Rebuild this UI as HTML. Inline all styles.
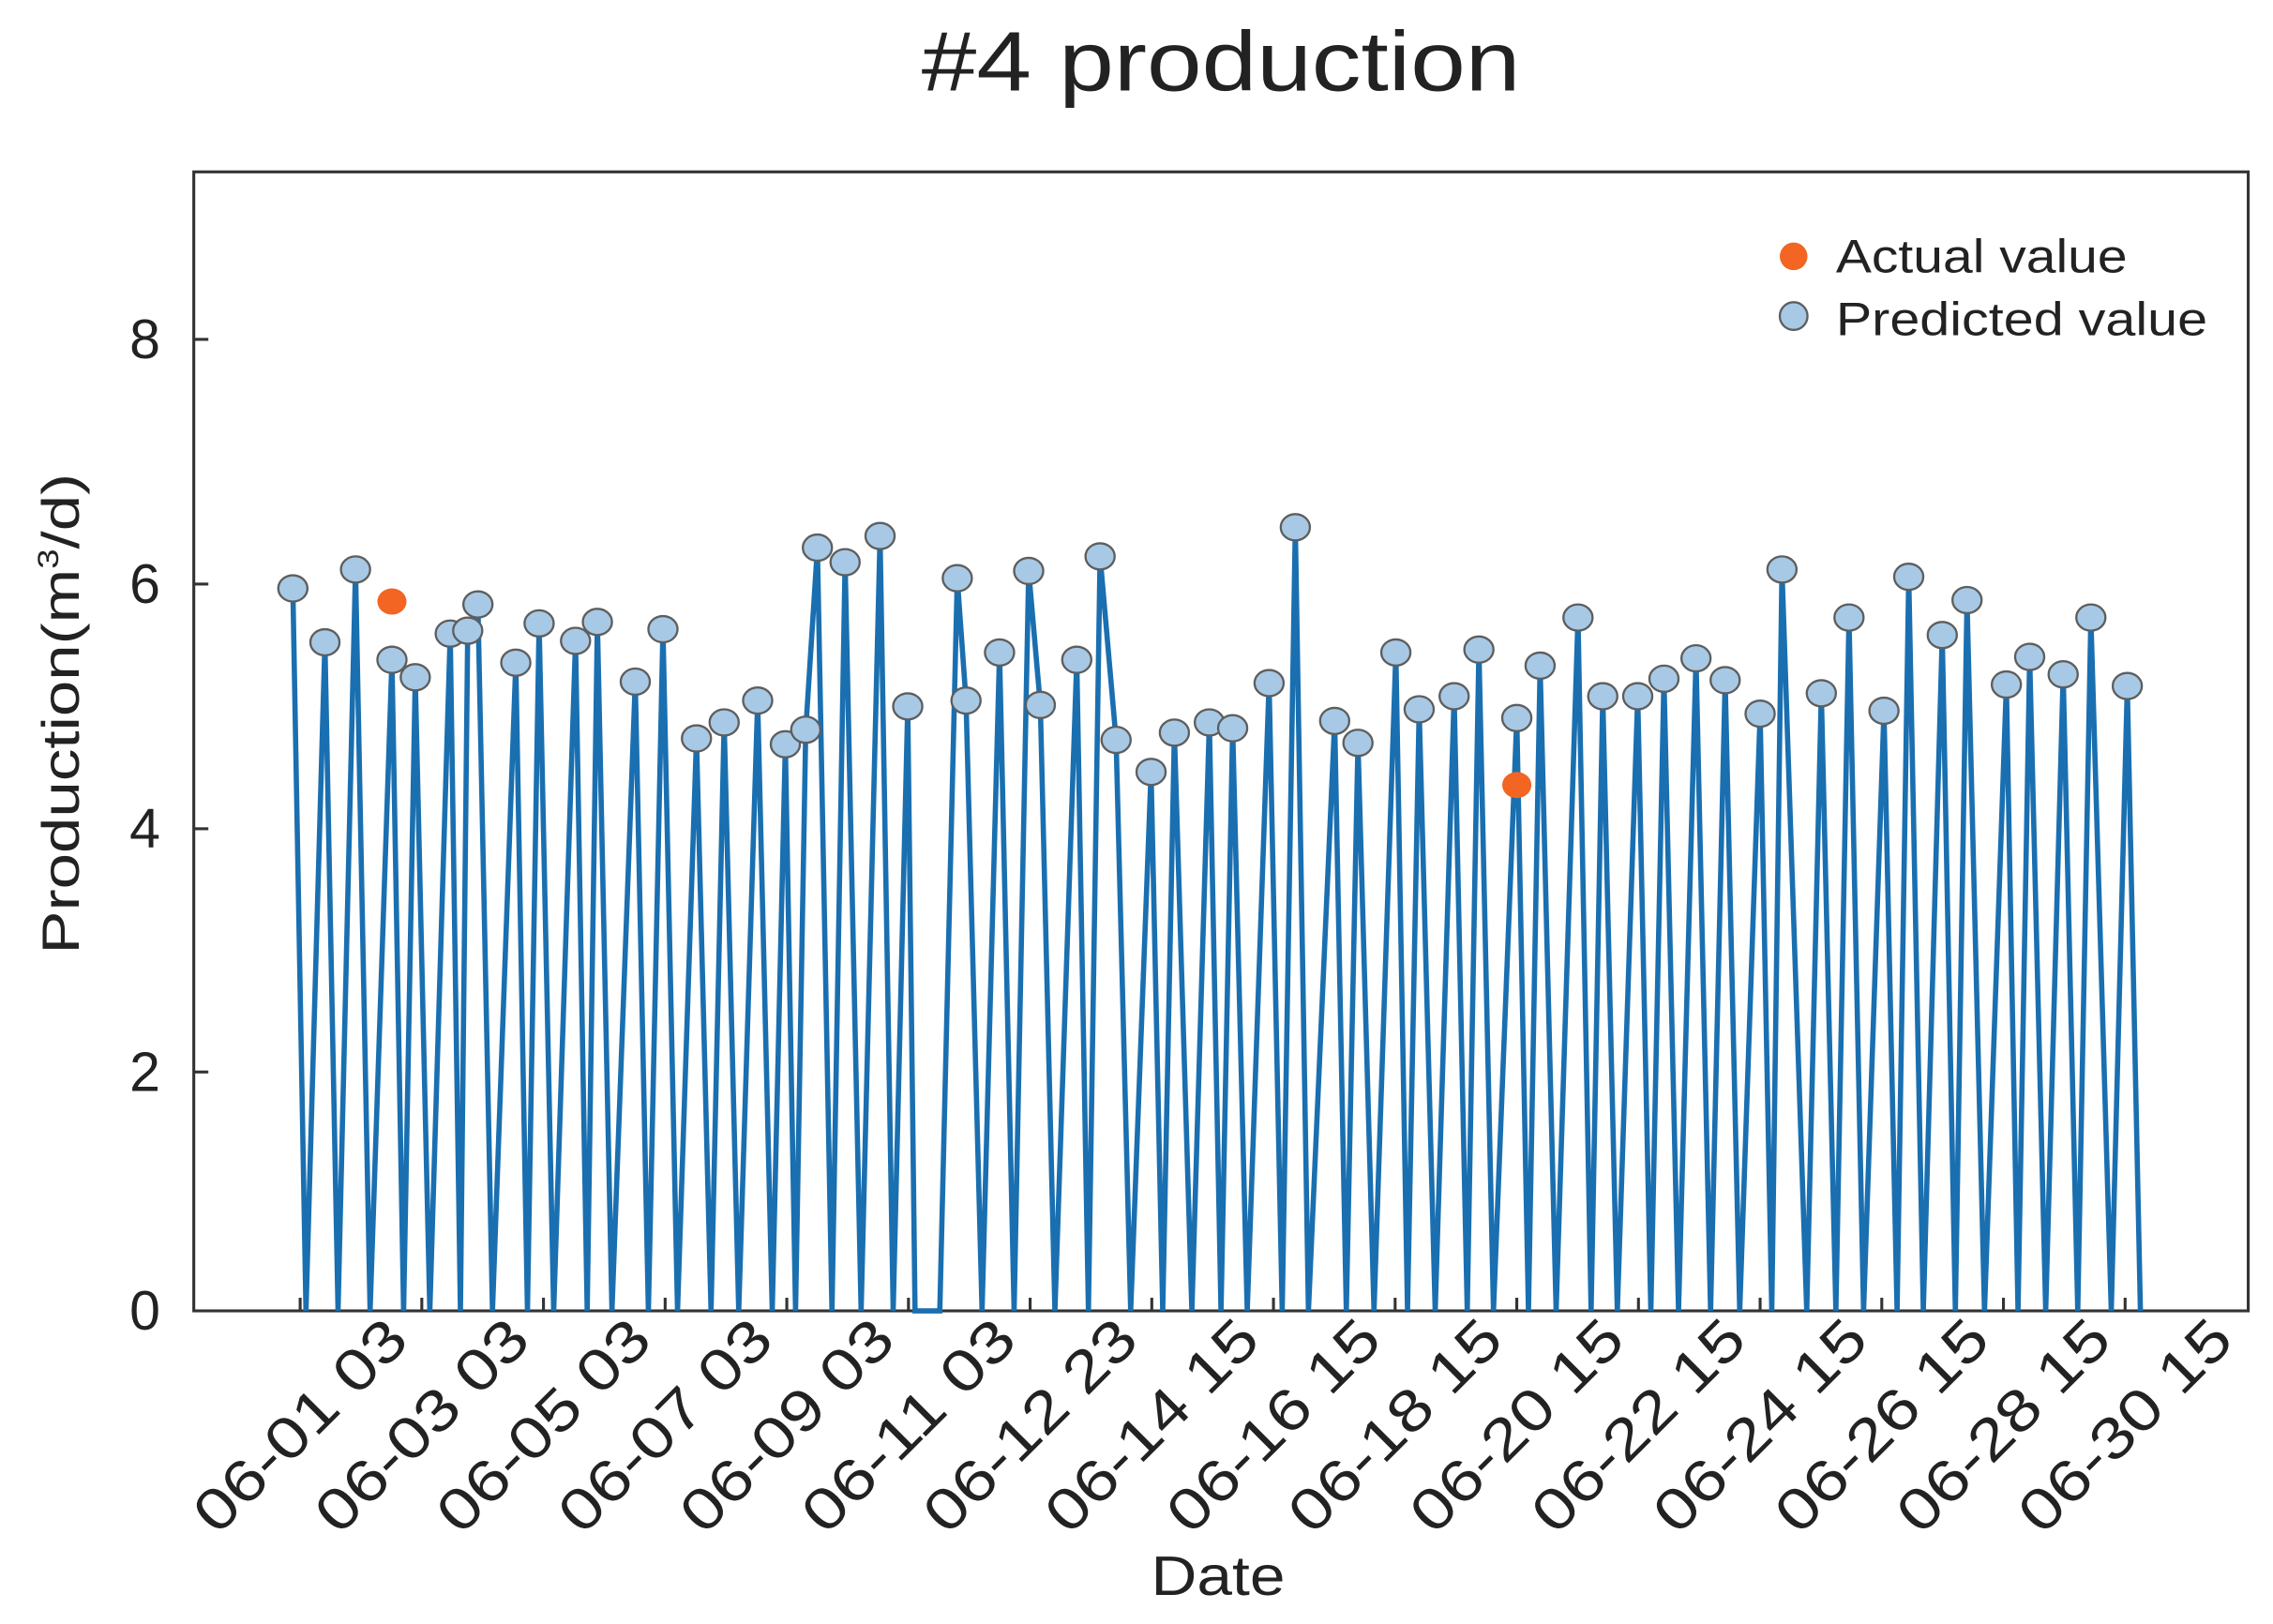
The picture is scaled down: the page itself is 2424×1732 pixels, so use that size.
<!DOCTYPE html>
<html><head><meta charset="utf-8"><style>html,body{margin:0;padding:0;background:#fff}svg{display:block}text{font-family:"Liberation Sans",sans-serif;fill:#222}</style></head>
<body>
<svg width="2424" height="1732" viewBox="0 0 1560 1115" preserveAspectRatio="none" xmlns="http://www.w3.org/2000/svg">
<text x="838" y="62" font-size="58" text-anchor="middle" textLength="411" lengthAdjust="spacingAndGlyphs">#4 production</text>
<rect x="133" y="118" width="1410" height="782" fill="none" stroke="#333" stroke-width="2"/>
<g stroke="#333" stroke-width="2">
<line x1="133" y1="233" x2="143" y2="233"/><line x1="133" y1="401" x2="143" y2="401"/><line x1="133" y1="569" x2="143" y2="569"/><line x1="133" y1="736" x2="143" y2="736"/>
<line x1="206" y1="900" x2="206" y2="891"/><line x1="289.5" y1="900" x2="289.5" y2="891"/><line x1="373" y1="900" x2="373" y2="891"/><line x1="456.5" y1="900" x2="456.5" y2="891"/><line x1="540" y1="900" x2="540" y2="891"/><line x1="623.5" y1="900" x2="623.5" y2="891"/><line x1="707" y1="900" x2="707" y2="891"/><line x1="790.5" y1="900" x2="790.5" y2="891"/><line x1="874" y1="900" x2="874" y2="891"/><line x1="957.5" y1="900" x2="957.5" y2="891"/><line x1="1041" y1="900" x2="1041" y2="891"/><line x1="1124.5" y1="900" x2="1124.5" y2="891"/><line x1="1208" y1="900" x2="1208" y2="891"/><line x1="1291.5" y1="900" x2="1291.5" y2="891"/><line x1="1375" y1="900" x2="1375" y2="891"/><line x1="1458.5" y1="900" x2="1458.5" y2="891"/>
</g>
<g font-size="38" text-anchor="end">
<text x="110" y="246">8</text><text x="110" y="414">6</text><text x="110" y="582">4</text><text x="110" y="749">2</text><text x="110" y="913">0</text>
</g>
<text transform="translate(54,490) rotate(-90)" font-size="36" text-anchor="middle" textLength="330" lengthAdjust="spacingAndGlyphs">Production(m<tspan font-size="20" dy="-14">3</tspan><tspan dy="14">/d)</tspan></text>
<text x="836" y="1095" font-size="38" text-anchor="middle" textLength="92" lengthAdjust="spacingAndGlyphs">Date</text>
<g font-size="40" text-anchor="end">
<text transform="translate(282,922) rotate(-45)" textLength="188" lengthAdjust="spacingAndGlyphs">06-01 03</text>
<text transform="translate(365.5,922) rotate(-45)" textLength="188" lengthAdjust="spacingAndGlyphs">06-03 03</text>
<text transform="translate(449,922) rotate(-45)" textLength="188" lengthAdjust="spacingAndGlyphs">06-05 03</text>
<text transform="translate(532.5,922) rotate(-45)" textLength="188" lengthAdjust="spacingAndGlyphs">06-07 03</text>
<text transform="translate(616,922) rotate(-45)" textLength="188" lengthAdjust="spacingAndGlyphs">06-09 03</text>
<text transform="translate(699.5,922) rotate(-45)" textLength="188" lengthAdjust="spacingAndGlyphs">06-11 03</text>
<text transform="translate(783,922) rotate(-45)" textLength="188" lengthAdjust="spacingAndGlyphs">06-12 23</text>
<text transform="translate(866.5,922) rotate(-45)" textLength="188" lengthAdjust="spacingAndGlyphs">06-14 15</text>
<text transform="translate(950,922) rotate(-45)" textLength="188" lengthAdjust="spacingAndGlyphs">06-16 15</text>
<text transform="translate(1033.5,922) rotate(-45)" textLength="188" lengthAdjust="spacingAndGlyphs">06-18 15</text>
<text transform="translate(1117,922) rotate(-45)" textLength="188" lengthAdjust="spacingAndGlyphs">06-20 15</text>
<text transform="translate(1200.5,922) rotate(-45)" textLength="188" lengthAdjust="spacingAndGlyphs">06-22 15</text>
<text transform="translate(1284,922) rotate(-45)" textLength="188" lengthAdjust="spacingAndGlyphs">06-24 15</text>
<text transform="translate(1367.5,922) rotate(-45)" textLength="188" lengthAdjust="spacingAndGlyphs">06-26 15</text>
<text transform="translate(1451,922) rotate(-45)" textLength="188" lengthAdjust="spacingAndGlyphs">06-28 15</text>
<text transform="translate(1534.5,922) rotate(-45)" textLength="188" lengthAdjust="spacingAndGlyphs">06-30 15</text>
</g>
<polyline fill="none" stroke="#1a6fb0" stroke-width="3.6" stroke-linejoin="miter" points="201,404 210,900 223,441 232,900 244,391 254,900 269,453 277,900 285,465 295,900 309,435 316,900 321,433 328,415 338,900 354,455 362,900 370,428 380,900 395,440 403,900 410,427 420,900 436,468 445,900 455,432 465,900 478,507 488,900 497,496 507,900 520,481 530,900 539,511 546,900 553,501 561,376 571,900 580,386 591,900 604,368 613,900 623,485 628,900 645,900 657,397 663,481 674,900 686,448 696,900 706,392 714,484 724,900 739,453 747,900 755,382 766,508 776,900 790,530 798,900 806,503 818,900 830,496 838,900 846,500 856,900 871,469 880,900 889,362 898,900 916,495 924,900 932,510 943,900 958,448 966,900 974,487 985,900 998,478 1007,900 1015,446 1025,900 1041,493 1049,900 1057,457 1068,900 1083,424 1092,900 1100,478 1110,900 1124,478 1133,900 1142,466 1152,900 1164,452 1174,900 1184,467 1194,900 1208,490 1216,900 1223,391 1240,900 1250,476 1260,900 1269,424 1279,900 1293,488 1302,900 1310,396 1320,900 1333,436 1342,900 1350,412 1362,900 1377,470 1385,900 1393,451 1404,900 1416,463 1426,900 1435,424 1449,900 1460,471 1469,900"/>
<g fill="#a7c9e5" stroke="#5e5e5e" stroke-width="1.5">
<ellipse cx="201" cy="404" rx="10" ry="9"/><ellipse cx="223" cy="441" rx="10" ry="9"/><ellipse cx="244" cy="391" rx="10" ry="9"/><ellipse cx="269" cy="453" rx="10" ry="9"/><ellipse cx="285" cy="465" rx="10" ry="9"/><ellipse cx="309" cy="435" rx="10" ry="9"/><ellipse cx="321" cy="433" rx="10" ry="9"/><ellipse cx="328" cy="415" rx="10" ry="9"/><ellipse cx="354" cy="455" rx="10" ry="9"/><ellipse cx="370" cy="428" rx="10" ry="9"/><ellipse cx="395" cy="440" rx="10" ry="9"/><ellipse cx="410" cy="427" rx="10" ry="9"/><ellipse cx="436" cy="468" rx="10" ry="9"/><ellipse cx="455" cy="432" rx="10" ry="9"/><ellipse cx="478" cy="507" rx="10" ry="9"/><ellipse cx="497" cy="496" rx="10" ry="9"/><ellipse cx="520" cy="481" rx="10" ry="9"/><ellipse cx="539" cy="511" rx="10" ry="9"/><ellipse cx="553" cy="501" rx="10" ry="9"/><ellipse cx="561" cy="376" rx="10" ry="9"/><ellipse cx="580" cy="386" rx="10" ry="9"/><ellipse cx="604" cy="368" rx="10" ry="9"/><ellipse cx="623" cy="485" rx="10" ry="9"/><ellipse cx="657" cy="397" rx="10" ry="9"/><ellipse cx="663" cy="481" rx="10" ry="9"/><ellipse cx="686" cy="448" rx="10" ry="9"/><ellipse cx="706" cy="392" rx="10" ry="9"/><ellipse cx="714" cy="484" rx="10" ry="9"/><ellipse cx="739" cy="453" rx="10" ry="9"/><ellipse cx="755" cy="382" rx="10" ry="9"/><ellipse cx="766" cy="508" rx="10" ry="9"/><ellipse cx="790" cy="530" rx="10" ry="9"/><ellipse cx="806" cy="503" rx="10" ry="9"/><ellipse cx="830" cy="496" rx="10" ry="9"/><ellipse cx="846" cy="500" rx="10" ry="9"/><ellipse cx="871" cy="469" rx="10" ry="9"/><ellipse cx="889" cy="362" rx="10" ry="9"/><ellipse cx="916" cy="495" rx="10" ry="9"/><ellipse cx="932" cy="510" rx="10" ry="9"/><ellipse cx="958" cy="448" rx="10" ry="9"/><ellipse cx="974" cy="487" rx="10" ry="9"/><ellipse cx="998" cy="478" rx="10" ry="9"/><ellipse cx="1015" cy="446" rx="10" ry="9"/><ellipse cx="1041" cy="493" rx="10" ry="9"/><ellipse cx="1057" cy="457" rx="10" ry="9"/><ellipse cx="1083" cy="424" rx="10" ry="9"/><ellipse cx="1100" cy="478" rx="10" ry="9"/><ellipse cx="1124" cy="478" rx="10" ry="9"/><ellipse cx="1142" cy="466" rx="10" ry="9"/><ellipse cx="1164" cy="452" rx="10" ry="9"/><ellipse cx="1184" cy="467" rx="10" ry="9"/><ellipse cx="1208" cy="490" rx="10" ry="9"/><ellipse cx="1223" cy="391" rx="10" ry="9"/><ellipse cx="1250" cy="476" rx="10" ry="9"/><ellipse cx="1269" cy="424" rx="10" ry="9"/><ellipse cx="1293" cy="488" rx="10" ry="9"/><ellipse cx="1310" cy="396" rx="10" ry="9"/><ellipse cx="1333" cy="436" rx="10" ry="9"/><ellipse cx="1350" cy="412" rx="10" ry="9"/><ellipse cx="1377" cy="470" rx="10" ry="9"/><ellipse cx="1393" cy="451" rx="10" ry="9"/><ellipse cx="1416" cy="463" rx="10" ry="9"/><ellipse cx="1435" cy="424" rx="10" ry="9"/><ellipse cx="1460" cy="471" rx="10" ry="9"/>
<ellipse cx="1231" cy="217" rx="9.5" ry="9.5"/>
</g>
<g fill="#f26522">
<ellipse cx="269" cy="413" rx="10" ry="9"/><ellipse cx="1041" cy="539" rx="10" ry="9"/>
<ellipse cx="1231" cy="176" rx="9.5" ry="9.5"/>
</g>
<text x="1260" y="187" font-size="32" textLength="200" lengthAdjust="spacingAndGlyphs">Actual value</text>
<text x="1260" y="230" font-size="32" textLength="255" lengthAdjust="spacingAndGlyphs">Predicted value</text>
</svg>
</body></html>
